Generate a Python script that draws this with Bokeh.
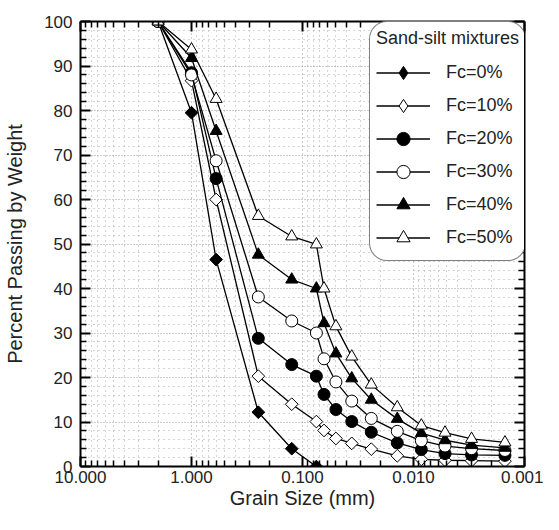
from bokeh.plotting import figure
from bokeh.models import (Range1d, FixedTicker, PrintfTickFormatter, LinearAxis,
                          LogAxis, Legend, LegendItem)
from bokeh.embed import file_html
from bokeh.resources import INLINE
import numpy as np

# ---------------- data ----------------
grain_size = [2.0, 1.0, 0.6, 0.25, 0.125, 0.075, 0.064, 0.05, 0.036,
              0.024, 0.014, 0.0085, 0.0052, 0.003, 0.0015]

fc0 = [100, 79.5, 46.5, 12.2, 4.0, 0.0]
fc10 = [100, 86.7, 60.0, 20.3, 14.0, 10.1, 8.1, 6.3, 5.2, 3.9, 2.4, 1.6, 1.4, 1.3, 1.2]
fc20 = [100, 88.5, 64.7, 28.8, 22.9, 20.3, 16.2, 12.8, 10.1, 7.7, 5.3, 3.8, 2.9, 2.6, 2.5]
fc30 = [100, 88.0, 68.7, 38.1, 32.7, 30.0, 24.2, 19.0, 14.7, 10.8, 7.9, 5.8, 4.6, 4.0, 3.6]
fc40 = [100, 91.8, 75.4, 47.6, 42.0, 40.0, 32.2, 25.4, 19.8, 15.0, 10.7, 7.5, 5.9, 4.8, 4.2]
fc50 = [100, 93.7, 82.6, 56.3, 51.7, 49.9, 40.0, 31.5, 24.7, 18.4, 13.3, 9.2, 7.6, 6.2, 5.4]

series_values = [fc0, fc10, fc20, fc30, fc40, fc50]
series_labels = ["Fc=0%", "Fc=10%", "Fc=20%", "Fc=30%", "Fc=40%", "Fc=50%"]

x_major_ticks = [10, 1, 0.1, 0.01, 0.001]
y_major_ticks = list(range(0, 101, 10))

# ---------------- styles ----------------
FONT = "Liberation Sans"
TXT = "#222222"
marker_styles = [
    dict(marker="square", angle=np.pi / 4, size=9, fill_color="black", legend_marker="diamond"),
    dict(marker="square", angle=np.pi / 4, size=9, fill_color="white", legend_marker="diamond"),
    dict(marker="circle", angle=0, size=12, fill_color="black", legend_marker="circle"),
    dict(marker="circle", angle=0, size=12, fill_color="white", legend_marker="circle"),
    dict(marker="triangle", angle=0, size=12, fill_color="black", legend_marker="triangle"),
    dict(marker="triangle", angle=0, size=12, fill_color="white", legend_marker="triangle"),
]

x_minor_ticks = [m * 10.0 ** k for k in range(-3, 1) for m in range(2, 10)]
y_minor_ticks = [v for v in range(0, 101, 2) if v % 10]

p = figure(width=543, height=514, x_axis_type="log",
           x_range=Range1d(10, 0.001), y_range=Range1d(0, 100),
           output_backend="svg", toolbar_location=None,
           min_border_left=80, min_border_right=19,
           min_border_top=21, min_border_bottom=48)
p.outline_line_color = None
p.background_fill_color = "white"
p.border_fill_color = "white"

xticker = FixedTicker(ticks=x_major_ticks, minor_ticks=x_minor_ticks)
yticker = FixedTicker(ticks=y_major_ticks, minor_ticks=y_minor_ticks)

def style_axis(ax, labels=True):
    ax.axis_line_width = 2
    ax.axis_line_color = "black"
    ax.major_tick_in = 10
    ax.major_tick_out = 0
    ax.minor_tick_in = 6
    ax.minor_tick_out = 0
    ax.major_tick_line_width = 2
    ax.minor_tick_line_width = 1.5
    ax.major_tick_line_color = "black"
    ax.minor_tick_line_color = "black"
    if labels:
        ax.major_label_text_font = FONT
        ax.major_label_text_font_size = "17px"
        ax.major_label_text_color = TXT
        ax.axis_label_text_font = FONT
        ax.axis_label_text_font_size = "20px"
        ax.axis_label_text_font_style = "normal"
        ax.axis_label_text_color = TXT
    else:
        ax.major_label_text_font_size = "2px"
        ax.major_label_text_alpha = 0
        ax.major_label_standoff = 0

xa = p.xaxis[0]
xa.ticker = xticker
xa.formatter = PrintfTickFormatter(format="%.3f")
xa.axis_label = "Grain Size (mm)"
style_axis(xa)
xa.major_label_standoff = 4
xa.axis_label_standoff = 1

ya = p.yaxis[0]
ya.ticker = yticker
ya.axis_label = "Percent Passing by Weight"
style_axis(ya)
ya.major_label_standoff = 8
ya.axis_label_standoff = 15

top = LogAxis(ticker=xticker)
style_axis(top, labels=False)
p.add_layout(top, "above")
right = LinearAxis(ticker=yticker)
style_axis(right, labels=False)
p.add_layout(right, "right")

p.xgrid.grid_line_color = "#999999"
p.xgrid.grid_line_dash = "1 3"
p.xgrid.minor_grid_line_color = "#aaaaaa"
p.xgrid.minor_grid_line_dash = "1 4"
p.ygrid.grid_line_color = "#999999"
p.ygrid.grid_line_dash = "1 2"
p.ygrid.minor_grid_line_color = "#aaaaaa"
p.ygrid.minor_grid_line_dash = "1 4"

items = []
for vals, lab, st in zip(series_values, series_labels, marker_styles):
    xs = grain_size[:len(vals)]
    ln = p.line(xs, vals, line_color="black", line_width=1.3)
    p.scatter(xs, vals, marker=st["marker"], angle=st["angle"], size=st["size"],
              fill_color=st["fill_color"], line_color="black", line_width=1)
    # legend-only copy (hidden in the plot) to get an upright diamond in the key
    lg = p.scatter(xs, vals, marker=st["legend_marker"], size=st["size"],
                   fill_color=st["fill_color"], line_color="black", line_width=1,
                   visible=False)
    items.append(LegendItem(label=lab, renderers=[ln, lg]))

legend_kw = dict(items=items, location=(289, 205), title="Sand-silt mixtures",
                 title_text_font=FONT, title_text_font_size="18px",
                 title_text_font_style="normal", title_text_color=TXT,
                 title_standoff=7,
                 label_text_font=FONT, label_text_font_size="18px", label_text_color=TXT,
                 label_standoff=16, label_width=72, label_height=33,
                 glyph_width=54, glyph_height=33, spacing=0, padding=6, margin=0,
                 border_line_color="black", border_line_width=1.5,
                 background_fill_color="white", background_fill_alpha=1.0,
                 click_policy="none", inactive_fill_alpha=0.0)
if "border_radius" in Legend.properties():
    legend_kw["border_radius"] = 18
legend = Legend(**legend_kw)
p.add_layout(legend, "center")

open("out.html", "w").write(file_html(p, INLINE))
